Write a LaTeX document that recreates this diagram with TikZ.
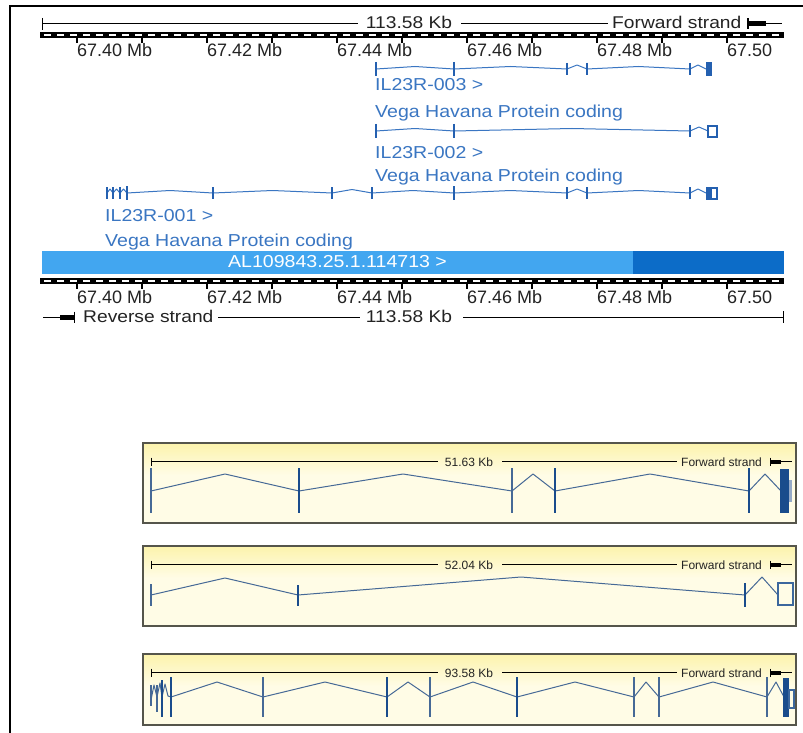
\documentclass[tikz,border=0pt]{standalone}
\usepackage{fontspec}
\setmainfont{Liberation Sans}
\newfontfamily\ensf[FakeStretch=1.13]{Liberation Sans}
\definecolor{tblue}{RGB}{58,118,194}
\definecolor{xblue}{RGB}{36,96,176}
\definecolor{barlight}{RGB}{66,166,240}
\definecolor{bardark}{RGB}{12,108,200}
\definecolor{gline}{RGB}{70,105,150}
\definecolor{gexon}{RGB}{26,76,140}
\definecolor{gext}{RGB}{150,170,200}
\definecolor{boxfill}{RGB}{255,252,230}
\definecolor{boxband}{RGB}{252,243,172}
\definecolor{boxedge}{RGB}{85,85,75}
\definecolor{rtext}{RGB}{35,35,35}
\tikzset{
  lbl/.style={font=\ensf\fontsize{17.3}{17.3}\selectfont, text=tblue, anchor=base west, inner sep=0pt},
  rul/.style={font=\fontsize{18}{18}\selectfont, text=rtext, anchor=base west, inner sep=0pt},
  scl/.style={font=\ensf\fontsize{17}{17}\selectfont, text=rtext, inner sep=0pt},
  smalltxt/.style={font=\fontsize{12}{12}\selectfont, text=rtext, inner sep=0pt},
  tline/.style={draw=tblue, line width=1pt, line join=round},
  texon/.style={draw=xblue, line width=2.2pt},
  tthin/.style={draw=xblue, line width=1.3pt},
  gl/.style={draw=gline, line width=1pt, line join=round},
  gthin/.style={draw=gline, line width=1.3pt},
  gthick/.style={draw=gexon, line width=2.8pt},
}
\newcommand\ensruler[3]{% #1 bar top, #2 label baseline, #3 name prefix
  \fill[black] (40,#1) rectangle (784,{#1+6});
  \foreach \i in {0,...,56} {\fill[white] ({44+13*\i},{#1+2}) rectangle ({51+13*\i},{#1+4});}
  \foreach \x in {77,142,...,727} {\draw[black, line width=1.2pt] (\x,{#1+6}) -- (\x,{#1+11});}
  \node[rul] (#3a) at (77,#2) {67.40 Mb};
  \node[rul] (#3b) at (207,#2) {67.42 Mb};
  \node[rul] (#3c) at (337,#2) {67.44 Mb};
  \node[rul] (#3d) at (467,#2) {67.46 Mb};
  \node[rul] (#3e) at (597,#2) {67.48 Mb};
  \node[rul] (#3f) at (727,#2) {67.50};
}
\newcommand\genebox[4]{% #1 top, #2 bottom, #3 size text, #4 name prefix
  \fill[boxfill] (143,#1) rectangle (796,#2);
  \shade[top color=boxband, bottom color=boxfill] (143,#1) rectangle (796,{#1+32});
  \draw[boxedge, line width=1.5pt] (143,#1) rectangle (796,#2);
  \draw[black, line width=0.9pt] (151,{#1+18.5}) -- (438,{#1+18.5});
  \draw[black, line width=0.9pt] (151,{#1+14.5}) -- (151,{#1+22.5});
  \node[smalltxt, anchor=base] (#4k) at (469,{#1+23}) {#3};
  \draw[black, line width=0.9pt] (502,{#1+18.5}) -- (677,{#1+18.5});
  \node[smalltxt, anchor=base west] (#4f) at (681,{#1+23}) {Forward strand};
  \draw[black, line width=1pt] (770,{#1+14.5}) -- (770,{#1+22.5});
  \fill[black] (770,{#1+16.5}) rectangle (781,{#1+20.5});
  \draw[black, line width=0.9pt] (781,{#1+18.5}) -- (792,{#1+18.5});
}
\begin{document}
\begin{tikzpicture}[x=1pt,y=-1pt]
\useasboundingbox (0,0) rectangle (803,733);
\fill[white] (0,0) rectangle (803,733);
% frame
\draw[black, line width=2.6pt] (10,733) -- (10,6) -- (803,6);

% ---------- top scale ----------
\draw[black, line width=1pt] (42,24) -- (358,24);
\draw[black, line width=1pt] (42,18) -- (42,30);
\node[scl, anchor=base] (tkb) at (409,28.5) {113.58 Kb};
\draw[black, line width=1pt] (461,24) -- (608,24);
\node[scl, anchor=base west] (tfs) at (612,28.5) {Forward strand};
\draw[black, line width=1.2pt] (748,18.5) -- (748,29.5);
\fill[black] (748,21.5) rectangle (766,26.5);
\draw[black, line width=1pt] (766,24) -- (782,24);

\ensruler{32}{57}{tr}

% ---------- IL23R-003 ----------
\draw[tline] (376,69) -- (415,66.5) -- (454,69) -- (510.5,66.5) -- (567,69) -- (577,65) -- (587,69) -- (638.5,66.5) -- (690,69) -- (698,65) -- (706,69);
\draw[texon] (376,62) -- (376,76);
\draw[texon] (454,62) -- (454,76);
\draw[tthin] (567,63) -- (567,75);
\draw[tthin] (587,63) -- (587,75);
\draw[tthin] (690,63) -- (690,75);
\fill[xblue] (705.5,62) rectangle (711.5,76);
\node[lbl] (t3) at (375,91) {IL23R-003 >};
\node[lbl] (v3) at (375,118) {Vega Havana Protein coding};

% ---------- IL23R-002 ----------
\draw[tline] (376,131) -- (415,128.5) -- (454,131) -- (572,128.5) -- (690,131) -- (699,127) -- (708,131);
\draw[texon] (376,124) -- (376,138);
\draw[texon] (454,124) -- (454,138);
\draw[tthin] (690,125) -- (690,137);
\draw[xblue, line width=1.2pt, fill=white] (708,126) rectangle (717,137);
\node[lbl] (t2) at (375,158) {IL23R-002 >};
\node[lbl] (v2) at (375,182) {Vega Havana Protein coding};

% ---------- IL23R-001 ----------
\draw[tline] (107,193) -- (110,189) -- (113,193) -- (116.5,189) -- (120,193) -- (123.5,189) -- (127,193)
  -- (170,190.5) -- (213,193) -- (272.5,190.5) -- (332,193) -- (352,189.5) -- (372,193)
  -- (413,190.5) -- (454,193) -- (510.5,190.5) -- (567,193) -- (577,189) -- (587,193) -- (638.5,190.5) -- (690,193) -- (698,189) -- (706,193);
\draw[tthin] (107,187) -- (107,199);
\draw[tthin] (113,187) -- (113,199);
\draw[tthin] (120,187) -- (120,199);
\draw[texon] (127,186) -- (127,200);
\draw[tthin] (213,187) -- (213,199);
\draw[tthin] (332,187) -- (332,199);
\draw[tthin] (372,187) -- (372,199);
\draw[texon] (454,186) -- (454,200);
\draw[tthin] (567,187) -- (567,199);
\draw[tthin] (587,187) -- (587,199);
\draw[tthin] (690,187) -- (690,199);
\draw[xblue, line width=1.2pt, fill=white] (711,188) rectangle (717,199);
\fill[xblue] (705.5,186.5) rectangle (711.5,200);
\node[lbl] (t1) at (105,221) {IL23R-001 >};
\node[lbl] (v1) at (105,246) {Vega Havana Protein coding};

% ---------- contig bar ----------
\fill[barlight] (42,251) rectangle (633,274);
\fill[bardark] (633,251) rectangle (784,274);
\node[lbl, text=white] (contig) at (228,267) {AL109843.25.1.114713 >};

\ensruler{278}{303}{br}

% ---------- bottom scale ----------
\draw[black, line width=1pt] (43,317) -- (60,317);
\fill[black] (60,314.5) rectangle (74,319.5);
\draw[black, line width=1.2pt] (74.5,311.5) -- (74.5,322.5);
\node[scl, anchor=base west] (brs) at (83,322) {Reverse strand};
\draw[black, line width=1pt] (218,317) -- (360,317);
\node[scl, anchor=base] (bkb) at (409,322) {113.58 Kb};
\draw[black, line width=1pt] (463,317) -- (783,317);
\draw[black, line width=1pt] (783,311) -- (783,323);

% ---------- box 1 ----------
\genebox{443}{523}{51.63 Kb}{ba}
\draw[gl] (151,491) -- (225,474) -- (299,491) -- (403,474) -- (512,491) -- (533,474) -- (555,491) -- (650,474) -- (749,491) -- (765,474) -- (781,491);
\draw[gthin] (151,468) -- (151,513);
\draw[gthin] (512,468) -- (512,513);
\draw[gthick] (299,468) -- (299,513);
\draw[gthick] (555,468) -- (555,513);
\draw[gthick] (749,468) -- (749,513);
\fill[gext] (788,480) rectangle (792,502);
\fill[gexon] (780,469) rectangle (788.5,513);

% ---------- box 2 ----------
\genebox{546}{626}{52.04 Kb}{bb}
\draw[gl] (151,595) -- (225,578) -- (298,595) -- (521,577) -- (745,595) -- (762,577) -- (778,595);
\draw[gthin] (151,584) -- (151,606);
\draw[gthick] (298,585) -- (298,606);
\draw[gthick] (745,583) -- (745,607);
\draw[gexon!85, line width=1.2pt] (778,583) rectangle (793,605);

% ---------- box 3 ----------
\genebox{654}{725}{93.58 Kb}{bc}
\draw[gl] (151,700) -- (154,685) -- (157,697) -- (160,683) -- (162,697) -- (165,684) -- (168,696) -- (171,697);
\draw[gl] (171,697) -- (217,682) -- (263,697) -- (325,682) -- (387,697) -- (408,682) -- (430,697) -- (473,682) -- (517,697) -- (575,682) -- (634,697) -- (646,682) -- (659,697) -- (713,682) -- (767,697) -- (776,682) -- (784,697);
\draw[gthin] (151,685) -- (151,706);
\draw[gthin] (157,685) -- (157,712);
\draw[gthick] (162,680) -- (162,717);
\draw[gthick] (171,677) -- (171,717);
\draw[gthin] (263,677) -- (263,717);
\draw[gthick] (387,677) -- (387,717);
\draw[gthin] (430,677) -- (430,717);
\draw[gthick] (517,677) -- (517,717);
\draw[gthin] (634,677) -- (634,717);
\draw[gthin] (659,677) -- (659,717);
\draw[gthin] (767,677) -- (767,717);
\fill[gexon] (783,678) rectangle (789,717);
\draw[gexon!85, line width=1.2pt] (789,690) rectangle (794,708);
\end{tikzpicture}
\end{document}
